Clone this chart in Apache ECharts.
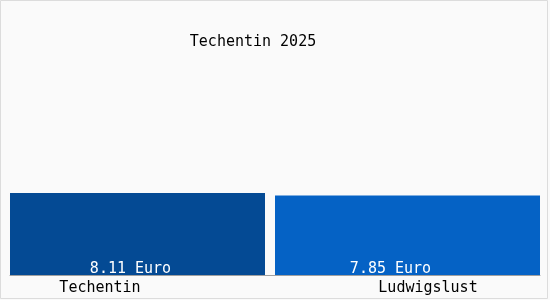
<!DOCTYPE html>
<html><head><meta charset="utf-8">
<script src="https://cdn.jsdelivr.net/npm/echarts@6/dist/echarts.min.js"></script>
<style>html,body{margin:0;padding:0;background:#fafafa}#c{width:550px;height:300px}</style>
</head><body><div id="c"></div>
<script>
const titleText = 'Techentin 2025';
const categories = ['Techentin', 'Ludwigslust'];
const values = [8.11, 7.85];
const valueLabels = ['8.11 Euro', '7.85 Euro'];
const colors = ['#044a94', '#0562c5'];

const chart = echarts.init(document.getElementById('c'));
const font = '"DejaVu Sans Mono", monospace';
chart.setOption({
  backgroundColor: '#fafafa',
  animation: false,
  title: {
    text: titleText, left: 248, top: 30, textAlign: 'center',
    textStyle: {fontFamily: font, fontSize: 15, fontWeight: 'normal', color: '#000'}
  },
  grid: {left: 10, right: 10, top: 22, bottom: 25},
  xAxis: {
    type: 'category', data: categories,
    axisTick: {show: false},
    axisLine: {lineStyle: {color: '#a0a0a0', width: 1}},
    axisLabel: {
      interval: 0, margin: 6,
      formatter: (v, i) => i === 0 ? '{a|' + v + '}' : '{b|' + v + '}',
      rich: {
        a: {fontFamily: font, fontSize: 15, color: '#000', padding: [0, 85, 0, 0]},
        b: {fontFamily: font, fontSize: 15, color: '#000', padding: [0, 0, 0, 41]}
      }
    }
  },
  yAxis: {type: 'value', min: 0, max: 25, show: false, splitLine: {show: false}},
  series: [
    {
      type: 'bar', barWidth: 255, barGap: '-100%',
      itemStyle: {color: colors[0]},
      data: [{value: values[0], label: {offset: [-7, 2]}}, null],
      label: {show: true, position: 'insideBottom', distance: 0, formatter: () => valueLabels[0],
        fontFamily: font, fontSize: 15, color: '#fff'}
    },
    {
      type: 'bar', barWidth: 265, barGap: '-100%',
      itemStyle: {color: colors[1]},
      data: [null, {value: values[1], label: {offset: [-17, 2]}}],
      label: {show: true, position: 'insideBottom', distance: 0, formatter: () => valueLabels[1],
        fontFamily: font, fontSize: 15, color: '#fff'}
    }
  ],
  graphic: [
    {type: 'rect', shape: {x: 0.5, y: 0.5, width: 547, height: 298}, style: {fill: 'none', stroke: '#dcdcdc', lineWidth: 1}, silent: true}
  ]
});
</script></body></html>
